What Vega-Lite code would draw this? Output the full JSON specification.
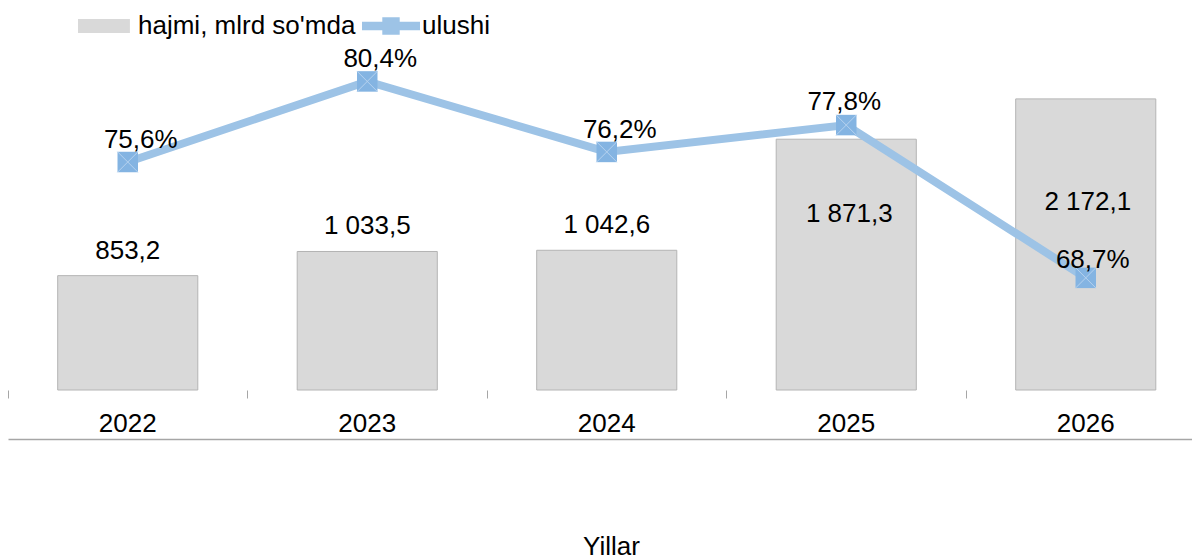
{
  "$schema": "https://vega.github.io/schema/vega-lite/v6.json",
  "width": 1184,
  "height": 390,
  "padding": {"left": 8, "top": 0, "right": 0, "bottom": 169},
  "autosize": {"type": "none"},
  "background": "white",
  "config": {
    "view": {"stroke": null},
    "font": "Liberation Sans",
    "locale": {"number": {"decimal": ",", "thousands": " ", "grouping": [3], "currency": ["", ""], "percent": "%"}}
  },
  "data": {"values": [
    {"year": "2022", "volume": 853.2, "share": 0.756},
    {"year": "2023", "volume": 1033.5, "share": 0.804},
    {"year": "2024", "volume": 1042.6, "share": 0.762},
    {"year": "2025", "volume": 1871.3, "share": 0.778},
    {"year": "2026", "volume": 2172.1, "share": 0.687}
  ]},
  "resolve": {"scale": {"y": "independent"}, "axis": {"x": "independent", "y": "independent"}},
  "layer": [
    {
      "layer": [
        {
          "mark": {"type": "bar", "width": {"band": 0.585}, "fill": "#d9d9d9", "stroke": "#b4b4b4", "strokeWidth": 1},
          "encoding": {
            "x": {"field": "year", "type": "nominal",
              "scale": {"paddingInner": 0, "paddingOuter": 0, "range": [0, 1197.5]},
              "axis": {"orient": "bottom", "bandPosition": 0, "domain": false, "grid": false,
                "ticks": true, "tickSize": 8, "tickColor": "#a6a6a6", "tickWidth": 1,
                "labelAngle": 0, "labelFontSize": 26, "labelColor": "#000000", "labelPadding": 12,
                "labelFont": "Liberation Sans",
                "title": "Yillar", "titleFontSize": 26, "titleFontWeight": "normal", "titleColor": "#000000",
                "titleFont": "Liberation Sans", "titleX": 603, "titleY": 164, "titleAlign": "center",
                "titleBaseline": "alphabetic", "titleAnchor": null}},
            "y": {"field": "volume", "type": "quantitative", "scale": {"domain": [0, 2910], "nice": false, "zero": true}, "axis": null}
          }
        },
        {
          "transform": [{"filter": "datum.year <= '2024'"}],
          "mark": {"type": "text", "fontSize": 26, "dy": -25, "baseline": "middle", "color": "#000000", "font": "Liberation Sans"},
          "encoding": {
            "x": {"field": "year", "type": "nominal"},
            "y": {"field": "volume", "type": "quantitative"},
            "text": {"field": "volume", "type": "quantitative", "format": ",.1f"}
          }
        },
        {
          "transform": [{"filter": "datum.year == '2025'"}],
          "mark": {"type": "text", "fontSize": 26, "dy": 75, "dx": 3, "baseline": "middle", "color": "#000000", "font": "Liberation Sans"},
          "encoding": {
            "x": {"field": "year", "type": "nominal"},
            "y": {"field": "volume", "type": "quantitative"},
            "text": {"field": "volume", "type": "quantitative", "format": ",.1f"}
          }
        },
        {
          "transform": [{"filter": "datum.year == '2026'"}],
          "mark": {"type": "text", "fontSize": 26, "dy": 103, "dx": 2, "baseline": "middle", "color": "#000000", "font": "Liberation Sans"},
          "encoding": {
            "x": {"field": "year", "type": "nominal"},
            "y": {"field": "volume", "type": "quantitative"},
            "text": {"field": "volume", "type": "quantitative", "format": ",.1f"}
          }
        }
      ]
    },
    {
      "layer": [
        {
          "mark": {"type": "line", "strokeWidth": 8, "color": "#9dc3e6"},
          "encoding": {
            "x": {"field": "year", "type": "nominal",
              "axis": {"orient": "bottom", "offset": 49, "domain": true, "domainColor": "#a6a6a6", "domainWidth": 1.5,
                "ticks": false, "labels": false, "title": null, "grid": false}},
            "y": {"field": "share", "type": "quantitative", "scale": {"domain": [0.6202, 0.8525], "nice": false, "zero": false}, "axis": null}
          }
        },
        {
          "mark": {"type": "point", "filled": true, "size": 0, "opacity": 1, "strokeWidth": 0},
          "encoding": {
            "x": {"field": "year", "type": "nominal"},
            "y": {"field": "share", "type": "quantitative"},
            "color": {"datum": "ulushi", "type": "nominal",
              "scale": {"domain": ["hajmi, mlrd so'mda", "ulushi"], "range": ["#d9d9d9", "#9dc3e6"]},
              "legend": {
                "orient": "none", "legendX": 70, "legendY": -3, "direction": "horizontal", "title": null,
                "labelFontSize": 26, "labelColor": "#000000", "labelFont": "Liberation Sans", "labelLimit": 0,
                "labelOffset": 2, "columnPadding": 6, "symbolSize": 3364, "symbolStrokeWidth": 0, "symbolOpacity": 1
              }},
            "shape": {"datum": "ulushi", "type": "nominal",
              "scale": {"domain": ["hajmi, mlrd so'mda", "ulushi"], "range": ["M-1,-0.24H0.79V0.24H-1Z", "M-1,-0.15H-0.3V-0.3H0.3V-0.15H1V0.15H0.3V0.3H-0.3V0.15H-1Z"]},
              "legend": {
                "orient": "none", "legendX": 70, "legendY": -3, "direction": "horizontal", "title": null,
                "labelFontSize": 26, "labelColor": "#000000", "labelFont": "Liberation Sans", "labelLimit": 0,
                "labelOffset": 2, "columnPadding": 6, "symbolSize": 3364, "symbolStrokeWidth": 0, "symbolOpacity": 1
              }}
          }
        },
        {
          "mark": {"type": "point", "shape": "square", "size": 420, "filled": true, "color": "#84b4e2", "opacity": 1},
          "encoding": {
            "x": {"field": "year", "type": "nominal"},
            "y": {"field": "share", "type": "quantitative"}
          }
        },
        {
          "mark": {"type": "point", "shape": "M-1,-1L1,1M-1,1L1,-1", "size": 420, "filled": false, "stroke": "#b6d2ef", "strokeWidth": 1, "opacity": 1},
          "encoding": {
            "x": {"field": "year", "type": "nominal"},
            "y": {"field": "share", "type": "quantitative"}
          }
        },
        {
          "transform": [{"filter": "datum.year <= '2024'"}],
          "mark": {"type": "text", "fontSize": 26, "dy": -22, "dx": 13, "baseline": "middle", "color": "#000000", "font": "Liberation Sans"},
          "encoding": {
            "x": {"field": "year", "type": "nominal"},
            "y": {"field": "share", "type": "quantitative"},
            "text": {"field": "share", "type": "quantitative", "format": ".1%"}
          }
        },
        {
          "transform": [{"filter": "datum.year == '2025'"}],
          "mark": {"type": "text", "fontSize": 26, "dy": -23, "dx": -2, "baseline": "middle", "color": "#000000", "font": "Liberation Sans"},
          "encoding": {
            "x": {"field": "year", "type": "nominal"},
            "y": {"field": "share", "type": "quantitative"},
            "text": {"field": "share", "type": "quantitative", "format": ".1%"}
          }
        },
        {
          "transform": [{"filter": "datum.year == '2026'"}],
          "mark": {"type": "text", "fontSize": 26, "dy": -18, "dx": 7, "baseline": "middle", "color": "#000000", "font": "Liberation Sans"},
          "encoding": {
            "x": {"field": "year", "type": "nominal"},
            "y": {"field": "share", "type": "quantitative"},
            "text": {"field": "share", "type": "quantitative", "format": ".1%"}
          }
        }
      ]
    }
  ]
}
